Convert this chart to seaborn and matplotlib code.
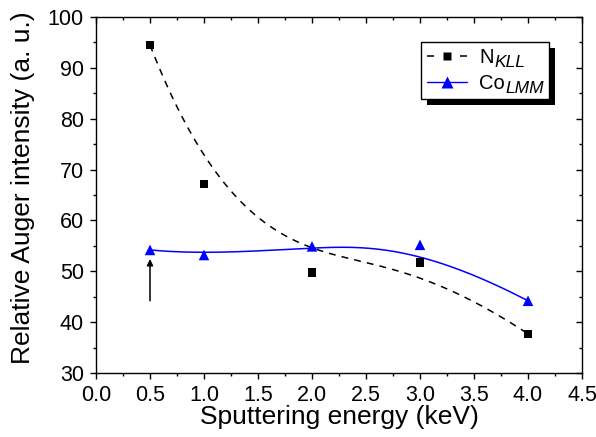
import numpy as np
import pandas as pd
import matplotlib
matplotlib.use("Agg")
import matplotlib.pyplot as plt
import seaborn as sns
from matplotlib.lines import Line2D
from matplotlib.patches import Rectangle
from matplotlib.ticker import MultipleLocator

# Data
energy = [0.5, 1.0, 2.0, 3.0, 4.0]
n_kll = [94.5, 67.2, 49.8, 51.7, 37.7]
co_lmm = [54.2, 53.2, 54.9, 55.2, 44.2]
x_ticks = [0.0, 0.5, 1.0, 1.5, 2.0, 2.5, 3.0, 3.5, 4.0, 4.5]
y_ticks = [30, 40, 50, 60, 70, 80, 90, 100]
main_labels = ['N', 'Co']
sub_labels = ['KLL', 'LMM']


def bspline(cx, cy, n=400, k=3):
    """Clamped cubic B-spline using the data points as control points."""
    cx = np.asarray(cx, float)
    cy = np.asarray(cy, float)
    m = len(cx)
    knots = np.concatenate([np.zeros(k), np.linspace(0, 1, m - k + 1), np.ones(k)])
    t = np.linspace(0, 1, n)
    t[-1] -= 1e-12
    B = np.zeros((n, len(knots) - 1))
    for i in range(len(knots) - 1):
        B[:, i] = (knots[i] <= t) & (t < knots[i + 1])
    for d in range(1, k + 1):
        Bn = np.zeros((n, len(knots) - 1 - d))
        for i in range(len(knots) - 1 - d):
            a = knots[i + d] - knots[i]
            b = knots[i + d + 1] - knots[i + 1]
            term = np.zeros(n)
            if a > 0:
                term += (t - knots[i]) / a * B[:, i]
            if b > 0:
                term += (knots[i + d + 1] - t) / b * B[:, i + 1]
            Bn[:, i] = term
        B = Bn
    return B @ cx, B @ cy


sns.set_theme(style="ticks")
plt.rcParams['font.family'] = ['Liberation Sans', 'DejaVu Sans']
plt.rcParams['text.color'] = 'black'
plt.rcParams['axes.labelcolor'] = 'black'

fig = plt.figure(figsize=(5.96, 4.37), dpi=100)
ax = fig.add_axes([96/596, 1-373/437, (582-96)/596, (373-17)/437])

nx, ny = bspline(energy, n_kll)
cx_, cy_ = bspline(energy, co_lmm)
df_n = pd.DataFrame({'x': nx, 'y': ny})
df_c = pd.DataFrame({'x': cx_, 'y': cy_})
sns.lineplot(data=df_n, x='x', y='y', ax=ax, color='black', lw=1.1,
             linestyle=(0, (4.5, 4)), sort=False, estimator=None, legend=False)
sns.lineplot(data=df_c, x='x', y='y', ax=ax, color='#0000ff', lw=1.1,
             sort=False, estimator=None, legend=False)

df = pd.DataFrame({'x': energy, 'n': n_kll, 'co': co_lmm})
sns.scatterplot(data=df, x='x', y='n', ax=ax, marker='s', color='black', s=38,
                edgecolor='none', zorder=3, legend=False)
sns.scatterplot(data=df, x='x', y='co', ax=ax, marker='^', color='#0000ff', s=58,
                edgecolor='none', zorder=3, legend=False)

# arrow
ax.annotate('', xy=(0.5, 52.4), xytext=(0.5, 44.2),
            arrowprops=dict(arrowstyle='-|>', color='black', lw=1.1,
                            mutation_scale=9, shrinkA=0, shrinkB=0))

ax.set_xlim(0, 4.5)
ax.set_ylim(30, 100)
ax.set_xticks(x_ticks)
ax.set_xticklabels([f"{v:.1f}" for v in x_ticks])
ax.set_yticks(y_ticks)
ax.xaxis.set_minor_locator(MultipleLocator(0.25))
ax.yaxis.set_minor_locator(MultipleLocator(5))
ax.tick_params(which='both', labelsize=15.5, color='black', labelcolor='black',
               width=1.0, top=True, right=True)
ax.tick_params(axis='both', which='major', length=4.3, direction='out', pad=4.5)
ax.tick_params(axis='both', which='minor', length=2.5, direction='out')
for t in ax.xaxis.get_major_ticks() + ax.xaxis.get_minor_ticks():
    t.tick2line.set_marker(3)
for t in ax.yaxis.get_major_ticks() + ax.yaxis.get_minor_ticks():
    t.tick2line.set_marker(0)
for sp in ax.spines.values():
    sp.set_color('black')
    sp.set_linewidth(1.0)

ax.set_xlabel('Sputtering energy (keV)', fontsize=19, color='black')
ax.set_ylabel('Relative Auger intensity (a. u.)', fontsize=19, color='black')
ax.xaxis.set_label_coords(0.5, -0.09)
ax.yaxis.set_label_coords(-0.125, 0.52)

# legend: main letters as labels, italic small-letter part added after layout
leg_fs = 14.5
sub_fs = 12.5
handles = [
    Line2D([], [], color='black', lw=1.1, linestyle=(0, (4.6, 17)), marker='s',
           markersize=6, markeredgecolor='none'),
    Line2D([], [], color='#0000ff', lw=1.0, marker='^', markersize=8,
           markeredgecolor='none'),
]
leg = ax.legend(handles, main_labels, loc='upper left',
                bbox_to_anchor=(421/596, 1-42/437), bbox_transform=fig.transFigure,
                borderaxespad=0, fontsize=leg_fs, frameon=False,
                handlelength=2.0, handletextpad=0.6, borderpad=0.3,
                labelspacing=0.35)
leg.set_zorder(6)
for txt in leg.get_texts():
    txt.set_color('black')

fig.canvas.draw()
renderer = fig.canvas.get_renderer()
sub_right = []
for txt, sub in zip(leg.get_texts(), sub_labels):
    tb = txt.get_window_extent(renderer)
    _, _, d = renderer.get_text_width_height_descent(
        txt.get_text(), txt.get_fontproperties(), ismath=False)
    st = ax.text(tb.x1 + 0.5, tb.y0 + d, sub, transform=None,
                 fontsize=sub_fs, fontstyle='italic', va='baseline', ha='left',
                 color='black', zorder=7)
    sub_right.append(st.get_window_extent(renderer).x1)

bb = leg.get_window_extent(renderer)
x1 = max(bb.x1, max(sub_right) + 5)
frame = Rectangle((bb.x0, bb.y0), x1 - bb.x0, bb.height, transform=None,
                  facecolor='white', edgecolor='black', lw=1.0, zorder=5.8)
shadow = Rectangle((bb.x0 + 6, bb.y0 - 6), x1 - bb.x0, bb.height, transform=None,
                   facecolor='black', edgecolor='none', zorder=5.5)
ax.add_artist(shadow)
ax.add_artist(frame)

fig.savefig('out.png', dpi=100)
